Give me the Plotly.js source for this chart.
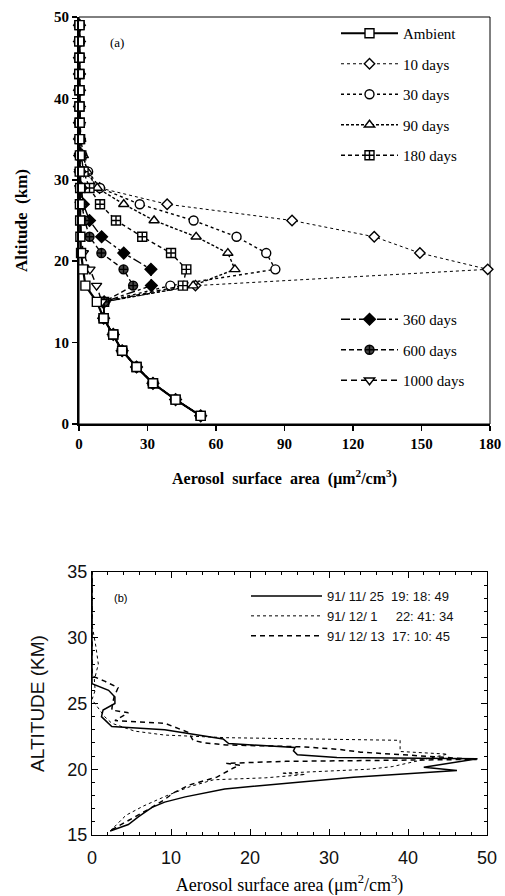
<!DOCTYPE html>
<html>
<head>
<meta charset="utf-8">
<script src="https://cdn.plot.ly/plotly-3.0.1.min.js"></script>
<style>html,body{margin:0;padding:0;background:#fff;}#chart{width:505px;height:896px;}</style>
</head>
<body>
<div id="chart"></div>
<script>
// ---------- Panel (a): altitude profiles (km) ----------
var altA = [1,3,5,7,9,11,13,15,17,19,21,23,25,27,29,31,33,35,37,39,41,43,45,47,49];
var ambient  = [53.3,42.3,32.4,25.2,18.9,15.0,10.8,7.8,2.8,1.8,0.9,0.6,0.5,0.4,0.5,0.3,0.4,0.2,0.3,0.2,0.2,0.1,0.2,0.1,0.2];
var days10   = [53.3,42.3,32.4,25.2,18.9,15.0,10.8,11.0,51.0,179.0,149.3,129.3,93.3,38.6,9.0,2.0,0.8,0.4,0.3,0.2,0.2,0.2,0.2,0.2,0.2];
var days30   = [53.3,42.3,32.4,25.2,18.9,15.0,10.8,11.0,40.0,86.0,82.0,69.0,50.2,26.6,9.2,4.0,1.5,0.6,0.3,0.2,0.2,0.2,0.2,0.2,0.2];
var days90   = [53.3,42.3,32.4,25.2,18.9,15.0,10.8,11.0,50.0,68.3,65.2,51.3,32.9,19.6,8.0,3.6,1.9,0.8,0.4,0.3,0.2,0.2,0.2,0.2,0.2];
var days180  = [53.3,42.3,32.4,25.2,18.9,15.0,10.8,11.0,45.5,47.0,40.3,27.7,16.2,9.2,4.6,2.0,1.0,0.5,0.3,0.2,0.2,0.2,0.2,0.2,0.2];
var days360  = [53.3,42.3,32.4,25.2,18.9,15.0,10.8,11.0,31.7,31.5,19.6,9.9,4.6,1.9,1.0,0.5,0.3,0.2,0.2,0.2,0.2,0.2,0.2,0.2,0.2];
var days600  = [53.3,42.3,32.4,25.2,18.9,15.0,10.8,11.0,23.7,19.5,9.8,4.6,2.5,1.2,0.6,0.3,0.2,0.2,0.2,0.2,0.2,0.2,0.2,0.2,0.2];
var days1000 = [53.3,42.3,32.4,25.2,18.9,15.0,10.8,10.0,7.7,4.8,1.9,1.0,0.7,0.5,0.3,0.2,0.2,0.2,0.2,0.2,0.2,0.2,0.2,0.2,0.2];
var namesA = ['Ambient','10 days','30 days','90 days','180 days','360 days','600 days','1000 days'];
var ticksAx = [0,30,60,90,120,150,180];
var ticksAy = [0,10,20,30,40,50];

// ---------- Panel (b): lidar profiles ----------
var altNov25 = [15.3,15.8,16.4,17.1,17.5,17.9,18.5,19.0,19.4,19.9,20.15,20.8,20.9,21.1,21.4,21.65,21.95,22.3,23.0,23.25,24.0,24.5,25.0,25.5,26.0,26.5,27.5,35];
var valNov25 = [2.3,4.6,5.9,7.6,9.2,11.8,16.8,25.7,33.1,46.2,42.0,48.8,31.0,26.0,25.5,25.7,17.3,16.6,9.2,2.5,1.2,1.4,2.9,2.9,2.1,0,0,0];
var altDec1  = [15.3,16.0,16.5,17.2,18.0,18.7,19.2,19.35,19.6,19.7,20.0,20.2,21.15,21.35,22.2,22.4,22.6,22.9,23.5,24.0,24.7,25.3,26.0,26.8,28.0,29.3,31.0,35];
var valDec1  = [2.3,3.4,4.3,6.5,9.5,12.5,15.4,22.0,27.0,24.0,35.0,38.0,45.0,39.0,39.0,17.0,9.2,5.4,2.5,1.6,0.8,0,0.4,0.3,0.8,0.5,0,0];
var altDec13 = [15.4,16.2,17.0,17.7,18.2,18.8,19.4,20.1,20.3,20.45,20.6,20.75,21.3,21.5,21.7,21.85,22.0,22.2,22.8,23.5,23.7,24.3,24.5,25.0,25.5,26.2,26.7,27.1,35];
var valDec13 = [2.5,5.0,7.3,9.2,10.3,12.3,15.8,17.9,18.7,17.0,24.5,48.7,34.0,31.4,27.0,17.0,14.3,12.8,12.2,9.2,2.9,4.6,2.5,2.6,2.8,3.3,1.6,0,0];
var namesB = ['91/ 11/ 25\u00a0\u00a019: 18: 49','91/ 12/ 1\u00a0\u00a0\u00a0\u00a0\u00a022: 41: 34','91/ 12/ 13\u00a0\u00a017: 10: 45'];

var serif = 'Liberation Serif, Times New Roman, serif';
var sans = 'Liberation Sans, Arial, sans-serif';

function trA(vals, name, sym, fill, dash, lw, ms, leg, rank) {
  return {
    type: 'scatter', mode: 'lines+markers', x: vals, y: altA, name: name,
    xaxis: 'x', yaxis: 'y', legend: leg, legendgroup: name, legendrank: rank,
    line: {color: '#000', width: lw, dash: dash},
    marker: {symbol: sym, size: ms, color: fill, line: {color: '#000', width: 1.4}},
    cliponaxis: false
  };
}

var data = [
  trA(days10, namesA[1], 'diamond', '#fff', 'dot', 1, 8, 'legend', 2),
  trA(days30, namesA[2], 'circle', '#fff', 'dot', 1.4, 9, 'legend', 3),
  trA(days90, namesA[3], 'triangle-up', '#fff', '3px,2px', 1.4, 9, 'legend', 4),
  trA(days180, namesA[4], 'square-cross', '#fff', '4px,3px', 1.4, 9, 'legend', 5),
  trA(days360, namesA[5], 'diamond', '#000', 'dashdot', 1.4, 9, 'legend2', 6),
  trA(days600, namesA[6], 'circle-cross', '#444', '5px,3px', 1.4, 9, 'legend2', 7),
  trA(days1000, namesA[7], 'triangle-down', '#fff', '6px,4px', 1.4, 9, 'legend2', 8),
  trA(ambient, namesA[0], 'square', '#fff', 'solid', 2.2, 9, 'legend', 1),
  {type:'scatter', mode:'lines', x: valNov25, y: altNov25, name: namesB[0], xaxis:'x2', yaxis:'y2', legend:'legend3',
   line:{color:'#000', width:1.5}},
  {type:'scatter', mode:'lines', x: valDec1, y: altDec1, name: namesB[1], xaxis:'x2', yaxis:'y2', legend:'legend3',
   line:{color:'#000', width:1, dash:'dot'}},
  {type:'scatter', mode:'lines', x: valDec13, y: altDec13, name: namesB[2], xaxis:'x2', yaxis:'y2', legend:'legend3',
   line:{color:'#000', width:1.5, dash:'5px,4px'}}
];

var nb = '\u00a0';
var layout = {
  width: 505, height: 896,
  margin: {l:0, r:0, t:0, b:0},
  paper_bgcolor: '#fff', plot_bgcolor: '#fff',
  font: {family: serif, color: '#000'},
  showlegend: true,
  xaxis: {
    domain: [79/505, 490/505], range: [0,180], tickvals: ticksAx, ticktext: ticksAx.map(String),
    ticks: 'outside', ticklen: 5, tickwidth: 1.5, tickcolor: '#000',
    showline: true, linewidth: 2, linecolor: '#000', showgrid: false, zeroline: false,
    tickfont: {family: serif, size: 15, weight: 'bold'},
    title: {text: 'Aerosol' + nb + nb + 'surface' + nb + nb + 'area' + nb + nb + '(\u03bcm<sup>2</sup>/cm<sup>3</sup>)',
            font: {family: serif, size: 16, weight: 'bold'}, standoff: 22},
    automargin: false, anchor: 'y', fixedrange: true
  },
  yaxis: {
    domain: [1-424/896, 1-17/896], range: [0,50], tickvals: ticksAy, ticktext: ticksAy.map(String),
    ticks: 'outside', ticklen: 5, tickwidth: 1.5, tickcolor: '#000',
    showline: true, linewidth: 2, linecolor: '#000', showgrid: false, zeroline: false,
    tickfont: {family: serif, size: 15, weight: 'bold'},
    title: {text: 'Altitude' + nb + nb + '(km)', font: {family: serif, size: 17, weight: 'bold'}, standoff: 22},
    automargin: false, anchor: 'x', fixedrange: true
  },
  xaxis2: {
    domain: [92/505, 487/505], range: [0,50], dtick: 10, tick0: 0,
    ticks: 'inside', ticklen: 6, tickwidth: 1, tickcolor: '#000',
    minor: {dtick: 2, ticks: 'inside', ticklen: 3, tickcolor: '#000'},
    showline: true, linewidth: 1, linecolor: '#000', mirror: 'allticks', showgrid: false, zeroline: false,
    tickfont: {family: sans, size: 18, color: '#111'}, ticklabelstandoff: 6,
    title: {text: 'Aerosol surface area (\u03bcm<sup>2</sup>/cm<sup>3</sup>)', font: {family: serif, size: 18}, standoff: 12},
    automargin: false, anchor: 'y2', fixedrange: true
  },
  yaxis2: {
    domain: [1-835/896, 1-572/896], range: [15,35], dtick: 5, tick0: 15,
    ticks: 'inside', ticklen: 6, tickwidth: 1, tickcolor: '#000',
    minor: {dtick: 1, ticks: 'inside', ticklen: 3, tickcolor: '#000'},
    showline: true, linewidth: 1, linecolor: '#000', mirror: 'allticks', showgrid: false, zeroline: false,
    tickfont: {family: sans, size: 18, color: '#111'},
    title: {text: 'ALTITUDE (KM)', font: {family: sans, size: 19, color: '#111'}, standoff: 17},
    automargin: false, anchor: 'x2', fixedrange: true
  },
  shapes: [
    {type:'rect', xref:'x domain', yref:'y domain', x0:0, x1:1, y0:0, y1:1, line:{color:'#000', width:1}, layer:'below'}
  ],
  annotations: [
    {xref:'paper', yref:'paper', x:108/505, y:1-42/896, xanchor:'left', yanchor:'middle', showarrow:false,
     text:'(a)', font:{family: serif, size: 13}},
    {xref:'paper', yref:'paper', x:112/505, y:1-598/896, xanchor:'left', yanchor:'middle', showarrow:false,
     text:'(b)', font:{family: sans, size: 11}}
  ],
  legend: {x: 336/505, y: 1-17/896, xanchor:'left', yanchor:'top', bgcolor:'rgba(0,0,0,0)', borderwidth:0,
           font:{family: serif, size: 15}, traceorder:'grouped', tracegroupgap: 8, itemwidth: 57},
  legend2: {x: 336/505, y: 1-303/896, xanchor:'left', yanchor:'top', bgcolor:'rgba(0,0,0,0)', borderwidth:0,
           font:{family: serif, size: 15}, traceorder:'grouped', tracegroupgap: 8, itemwidth: 57},
  legend3: {x: 246/505, y: 1-581/896, xanchor:'left', yanchor:'top', bgcolor:'rgba(0,0,0,0)', borderwidth:0,
           font:{family: sans, size: 13, color:'#111'}, traceorder:'normal', itemwidth: 71}
};

Plotly.newPlot('chart', data, layout, {staticPlot: true, displayModeBar: false});
</script>
</body>
</html>
